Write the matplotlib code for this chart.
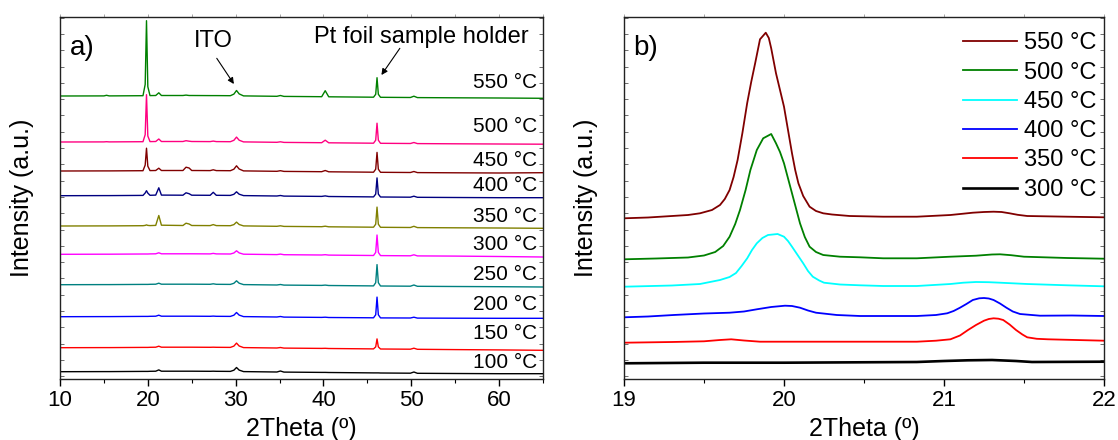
import matplotlib
matplotlib.use("Agg")
import matplotlib.pyplot as plt
from matplotlib.ticker import MultipleLocator, FixedLocator, NullFormatter
import numpy as np

plt.rcParams['font.family'] = ['Liberation Sans', 'DejaVu Sans']

# ---------------- panel a: full XRD patterns (10-65 deg) ----------------
TWO_THETA_A = [10.0, 15.0, 15.3, 15.6, 19.45, 19.7, 19.85, 20.0, 20.25, 20.9,
               21.25, 21.55, 24.0, 24.35, 24.7, 25.0, 27.1, 27.45, 27.8, 29.4,
               29.8, 30.1, 30.4, 30.9, 34.7, 35.1, 35.5, 39.8, 40.2, 40.6,
               45.7, 45.95, 46.1, 46.25, 46.5, 49.9, 50.3, 50.7, 55.0, 60.0, 65.0]

TEMPS_A = ['550 °C', '500 °C', '450 °C', '400 °C', '350 °C',
           '300 °C', '250 °C', '200 °C', '150 °C', '100 °C']
COLORS_A = ['#008000', '#ff0080', '#800000', '#000080', '#808000',
            '#ff00ff', '#008080', '#0000ff', '#ff0000', '#000000']
OFFSETS_A = [283.0, 237.0, 208.0, 183.3, 153.0, 124.7, 94.3, 62.3, 31.3, 7.3]

I_550 = [0, 0.1, 0.7, 0.1, 0.3, 11.6, 75.3, 9.3, 0.4, 0.5,
         3.2, 0.5, 0.5, 0.9, 0.5, 0.5, 0.4, 0.4, 0.4, 0.3,
         1.9, 5.5, 2.1, 0.1, -0.3, 0.5, -0.4, -0.7, 5.3, -0.8,
         -1.2, 1.7, 18.3, 1.7, -1.3, -1.5, -0.2, -1.6, -1.8, -2.0, -2.3]
I_500 = [0, 0.1, 0.3, 0.1, 0.3, 7.3, 47.3, 6.0, 0.4, 0.5,
         3.0, 0.5, 0.5, 1.3, 0.8, 0.5, 0.4, 0.9, 0.4, 0.3,
         1.7, 4.9, 1.8, 0.1, -0.3, 0.2, -0.4, -0.7, 1.8, -0.8,
         -1.2, 1.8, 18.8, 1.8, -1.3, -1.5, -0.5, -1.6, -1.8, -2.0, -2.2]
I_450 = [0, 0.1, 0.1, 0.1, 0.3, 5.9, 22.8, 4.8, 0.4, 0.5,
         2.8, 0.5, 0.5, 3.8, 3.0, 0.5, 0.4, 1.2, 0.4, 0.3,
         1.8, 5.2, 2.0, 0.1, -0.3, 0.3, -0.4, -0.7, 0.5, -0.8,
         -1.2, 1.8, 18.6, 1.8, -1.3, -1.5, -0.5, -1.6, -1.8, -2.0, -1.7]
I_400 = [0, 0.1, 0.1, 0.1, 0.3, 2.7, 5.0, 2.6, 0.4, 0.6,
         7.9, 0.6, 0.5, 2.9, 2.0, 0.5, 0.4, 3.4, 0.4, 0.3,
         1.4, 3.9, 1.5, 0.1, -0.3, 0.2, -0.4, -0.7, -0.2, -0.8,
         -1.2, 1.6, 17.8, 1.6, -1.3, -1.5, -0.5, -1.6, -1.8, -2.0, -2.0]
I_350 = [0, 0.1, 0.1, 0.1, 0.3, 0.6, 1.1, 0.6, 0.4, 0.6,
         10.5, 0.8, 0.5, 2.8, 2.0, 0.5, 0.4, 1.4, 0.4, 0.3,
         1.4, 3.9, 1.5, 0.1, -0.3, 0.2, -0.4, -0.7, -0.2, -0.8,
         -1.2, 1.8, 18.9, 1.8, -1.3, -1.5, -0.3, -1.6, -1.8, -2.0, -2.3]
I_300 = [0, 0.1, 0.1, 0.1, 0.3, 0.3, 0.3, 0.3, 0.4, 0.5,
         1.5, 0.5, 0.5, 0.5, 0.5, 0.5, 0.4, 0.9, 0.4, 0.3,
         1.3, 3.5, 1.4, 0.1, -0.3, 0.2, -0.4, -0.7, -0.4, -0.8,
         -1.2, 1.9, 19.3, 1.9, -1.3, -1.5, -0.5, -1.6, -1.8, -2.2, -2.7]
I_250 = [0, 0.1, 0.1, 0.1, 0.3, 0.3, 0.3, 0.3, 0.4, 0.5,
         1.5, 0.5, 0.5, 0.5, 0.5, 0.5, 0.4, 0.9, 0.4, 0.3,
         1.4, 3.9, 1.5, 0.1, -0.3, 0.2, -0.4, -0.7, -0.4, -0.8,
         -1.2, 2.0, 20.1, 2.0, -1.3, -1.5, -0.3, -1.6, -1.8, -2.0, -2.3]
I_200 = [0, 0.1, 0.1, 0.1, 0.3, 0.3, 0.3, 0.3, 0.4, 0.5,
         1.5, 0.5, 0.5, 0.5, 0.5, 0.5, 0.4, 0.6, 0.4, 0.3,
         1.5, 4.2, 1.6, 0.1, -0.3, 0.2, -0.4, -0.7, -0.5, -0.8,
         -1.1, 1.9, 19.6, 1.9, -1.2, -1.3, -0.5, -1.4, -1.5, -1.6, -1.6]
I_150 = [0, 0.1, 0.1, 0.1, 0.3, 0.3, 0.3, 0.3, 0.4, 0.5,
         1.5, 0.5, 0.5, 0.5, 0.5, 0.5, 0.4, 0.5, 0.4, 0.3,
         1.6, 4.6, 1.7, 0.1, -0.3, 0.2, -0.4, -0.7, -0.6, -0.8,
         -1.2, 0.8, 8.8, 0.8, -1.3, -1.5, -0.5, -1.6, -1.9, -2.2, -2.6]
I_100 = [0, 0.1, 0.1, 0.1, 0.3, 0.3, 0.3, 0.3, 0.4, 0.5,
         1.8, 0.5, 0.5, 0.5, 0.5, 0.5, 0.4, 0.5, 0.4, 0.3,
         1.5, 4.2, 1.6, 0.1, -0.3, 0.7, -0.4, -0.7, -0.7, -0.8,
         -1.2, -1.2, -1.2, -1.2, -1.3, -1.5, -0.3, -1.6, -1.8, -2.0, -2.0]
PATTERNS_A = [I_550, I_500, I_450, I_400, I_350, I_300, I_250, I_200, I_150, I_100]
LABEL_Y_A = [296.3, 252.3, 218.3, 193.3, 163.0, 134.7, 104.7, 74.0, 45.7, 16.7]

# ---------------- panel b: zoom on 19-22 deg ----------------
TEMPS_B = ['550 °C', '500 °C', '450 °C', '400 °C', '350 °C', '300 °C']
COLORS_B = ['#800000', '#008000', '#00ffff', '#0000ff', '#ff0000', '#000000']
WIDTHS_B = [1.3, 1.3, 1.3, 1.3, 1.3, 1.9]

X_B550 = [19.0, 19.15, 19.3, 19.4, 19.475, 19.55, 19.6, 19.63, 19.66, 19.685,
          19.71, 19.74, 19.77, 19.795, 19.82, 19.85, 19.886, 19.905, 19.92, 19.95,
          19.975, 20.0, 20.025, 20.05, 20.07, 20.09, 20.12, 20.16, 20.2, 20.245,
          20.3, 20.41, 20.62, 20.83, 21.04, 21.12, 21.18, 21.25, 21.31, 21.36,
          21.41, 21.46, 21.52, 21.77, 22.0]
I_B550 = [160.7, 161.5, 163.0, 164.0, 165.7, 169.0, 174.0, 180.0, 189.0, 202.0,
          219.0, 246.0, 276.0, 297.0, 316.0, 339.7, 346.3, 341.0, 330.7, 305.7,
          289.0, 272.3, 249.0, 225.7, 209.0, 195.7, 183.0, 172.3, 168.0, 165.7,
          164.5, 163.0, 162.3, 162.3, 164.0, 165.3, 166.3, 167.0, 167.3, 167.0,
          165.7, 164.2, 163.0, 162.3, 161.7]
X_B500 = [19.0, 19.2, 19.4, 19.5, 19.57, 19.62, 19.66, 19.695, 19.725, 19.76,
          19.79, 19.83, 19.87, 19.92, 19.95, 19.975, 20.0, 20.05, 20.1, 20.13,
          20.16, 20.2, 20.245, 20.35, 20.475, 20.62, 20.83, 21.04, 21.2, 21.3,
          21.35, 21.42, 21.5, 21.77, 22.0]
I_B500 = [119.7, 120.5, 121.5, 123.5, 127.0, 133.0, 142.3, 155.0, 169.0, 189.0,
          209.0, 229.0, 240.7, 245.0, 235.7, 227.0, 215.7, 185.7, 155.7, 142.0,
          132.3, 127.0, 124.0, 122.3, 121.7, 120.7, 120.7, 122.3, 123.3, 124.5,
          124.7, 123.8, 122.3, 121.0, 120.3]
X_B450 = [19.0, 19.3, 19.475, 19.6, 19.66, 19.7, 19.735, 19.77, 19.8, 19.83,
          19.865, 19.9, 19.96, 20.0, 20.025, 20.05, 20.085, 20.12, 20.15, 20.18,
          20.22, 20.25, 20.35, 20.475, 20.62, 20.83, 21.04, 21.12, 21.2, 21.28,
          21.35, 21.52, 21.77, 22.0]
I_B450 = [92.3, 93.5, 95.0, 99.0, 102.0, 106.0, 113.0, 120.7, 129.0, 135.7,
          141.0, 144.0, 145.0, 142.3, 138.0, 132.3, 124.0, 115.7, 108.0, 102.3,
          98.5, 96.3, 94.5, 93.7, 93.0, 93.0, 95.0, 96.3, 97.0, 96.8,
          96.3, 95.0, 93.7, 92.7]
X_B400 = [19.0, 19.15, 19.31, 19.5, 19.66, 19.75, 19.83, 19.92, 20.006, 20.05,
          20.1, 20.15, 20.2, 20.33, 20.475, 20.62, 20.83, 20.95, 21.02, 21.06,
          21.1, 21.14, 21.18, 21.22, 21.25, 21.28, 21.31, 21.35, 21.39, 21.43,
          21.475, 21.6, 21.8, 22.0]
I_B400 = [61.7, 62.5, 64.0, 65.5, 66.3, 67.5, 69.7, 72.0, 73.3, 73.0,
          71.3, 68.5, 66.3, 64.0, 63.0, 63.0, 63.0, 64.0, 65.7, 68.0,
          71.3, 75.0, 79.0, 80.7, 81.0, 80.5, 79.0, 75.5, 71.3, 67.5,
          65.0, 63.3, 63.5, 63.0]
X_B350 = [19.0, 19.3, 19.5, 19.6, 19.67, 19.75, 19.85, 20.2, 20.475, 20.83,
          20.95, 21.04, 21.1, 21.15, 21.2, 21.25, 21.28, 21.31, 21.34, 21.37,
          21.41, 21.45, 21.49, 21.52, 21.58, 21.65, 22.0]
I_B350 = [36.3, 37.0, 37.7, 39.0, 39.7, 38.5, 37.3, 37.3, 37.3, 37.3,
          38.3, 39.7, 43.5, 49.0, 54.0, 58.3, 60.0, 60.7, 60.3, 59.0,
          54.5, 49.0, 44.5, 41.7, 40.2, 39.7, 38.3]
X_B300 = [19.0, 19.5, 20.0, 20.475, 20.83, 21.0, 21.15, 21.3, 21.45, 21.55, 22.0]
I_B300 = [15.7, 16.3, 16.3, 16.7, 17.0, 18.0, 18.7, 19.0, 18.0, 17.0, 17.3]
X_B = [X_B550, X_B500, X_B450, X_B400, X_B350, X_B300]
I_B = [I_B550, I_B500, I_B450, I_B400, I_B350, I_B300]

Y_MAX = 362.0
YTICKS = np.arange(2.7, Y_MAX, 16.3)

fig = plt.figure(figsize=(11.18, 4.40), dpi=100)
ax_a = fig.add_axes([60 / 1118, 61 / 440, 483 / 1118, 362 / 440])
ax_b = fig.add_axes([624 / 1118, 61 / 440, 480 / 1118, 362 / 440])


def style_axes(ax, major, minor):
    for sp in ax.spines.values():
        sp.set_linewidth(1.0)
        sp.set_color('#222222')
    ax.set_ylim(0, Y_MAX)
    ax.yaxis.set_major_locator(FixedLocator(YTICKS))
    ax.yaxis.set_major_formatter(NullFormatter())
    ax.tick_params(axis='y', which='both', direction='in', length=3, width=0.6,
                   left=True, right=True, color='#555555')
    ax.xaxis.set_major_locator(MultipleLocator(major))
    ax.xaxis.set_minor_locator(MultipleLocator(minor))
    ax.tick_params(axis='x', which='major', direction='out', length=5, width=1.0,
                   labelsize=16, pad=3)
    ax.tick_params(axis='x', which='minor', direction='out', length=3, width=0.8)
    # faint ticks along the top frame
    top = ax.secondary_xaxis('top')
    top.xaxis.set_major_locator(MultipleLocator(major))
    top.xaxis.set_minor_locator(MultipleLocator(minor))
    top.xaxis.set_major_formatter(NullFormatter())
    top.tick_params(axis='x', which='both', direction='out', length=2.5,
                    width=0.6, color='#999999')
    top.spines['top'].set_visible(False)
    ax.set_xlabel('2Theta (º)', fontsize=18, labelpad=4)
    ax.set_ylabel('Intensity (a.u.)', fontsize=18, labelpad=15)


ARROW = dict(arrowstyle='-|>', color='black', lw=0.8, mutation_scale=9,
             shrinkA=0, shrinkB=0)

# panel a
x_a = np.array(TWO_THETA_A)
for pat, off, col in zip(PATTERNS_A, OFFSETS_A, COLORS_A):
    ax_a.plot(x_a, off + np.array(pat), color=col, lw=1.0)
for lab, ly in zip(TEMPS_A, LABEL_Y_A):
    ax_a.text(64.3, ly, lab, fontsize=15, ha='right', va='center')
ax_a.set_xlim(10, 65)
style_axes(ax_a, 10, 5)
ax_a.text(0.02, 0.914, 'a)', transform=ax_a.transAxes, fontsize=20,
          ha='left', va='center')
ax_a.text(27.5, 338, 'ITO', fontsize=17, ha='center', va='center')
ax_a.annotate('', xy=(29.8, 295), xytext=(27.85, 320.7), arrowprops=ARROW)
ax_a.text(51.2, 342, 'Pt foil sample holder', fontsize=17, ha='center', va='center')
ax_a.annotate('', xy=(46.6, 304), xytext=(48.7, 330.7), arrowprops=ARROW)

# panel b
for xs, ys, col, lw, lab in zip(X_B, I_B, COLORS_B, WIDTHS_B, TEMPS_B):
    ax_b.plot(xs, ys, color=col, lw=lw, label=lab)
ax_b.set_xlim(19, 22)
style_axes(ax_b, 1, 0.5)
ax_b.text(0.02, 0.914, 'b)', transform=ax_b.transAxes, fontsize=20,
          ha='left', va='center')
ax_b.legend(loc='upper right', bbox_to_anchor=(0.985, 0.958), frameon=False,
            fontsize=17, handlelength=2.3, handletextpad=0.3, labelspacing=0.31,
            borderpad=0, borderaxespad=0)

fig.savefig('out.png', dpi=100)
